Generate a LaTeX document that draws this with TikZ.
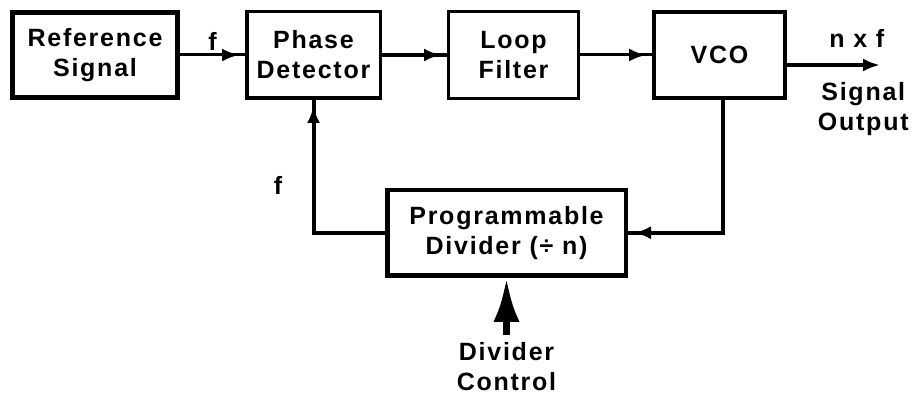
\documentclass[tikz,border=0pt]{standalone}
\usepackage{fontspec}
\setmainfont{Liberation Sans}[LetterSpace=7.0]
\usetikzlibrary{arrows.meta,positioning,calc,decorations.markings}

\begin{document}
\begin{tikzpicture}[x=1pt, y=1pt, node distance=65pt, >=Latex,
  every node/.style={font=\fontsize{25pt}{30pt}\selectfont\bfseries},
  blk/.style={draw, line width=3.5pt, minimum height=86.5pt, align=center},
  tip/.style={postaction={decorate}, decoration={markings, mark=at position -6pt with {\arrow{Latex[length=17pt,width=13pt]}}}}]
\useasboundingbox (0,0) rectangle (913,-398);
\node[blk, line width=5pt, minimum width=165pt, minimum height=85pt] (ref) at (95,-55) {Reference\\Signal};
\node[blk, minimum width=133.5pt, right=65pt of ref] (pd) {Phase\\Detector};
\node[blk, line width=3pt, minimum width=130pt, right=65pt of pd] (lf) {Loop\\Filter};
\node[blk, line width=4pt, minimum width=131pt, right=72pt of lf] (vco) {VCO};
\node[blk, line width=4.5pt, minimum width=238.5pt, minimum height=85.5pt, below=88pt of lf, xshift=-7pt] (div) {Programmable\\Divider (÷ n)};

\draw[line width=3pt, tip] (ref) -- node[above]{f} (pd);
\draw[line width=4pt, tip] (pd) -- (lf);
\draw[line width=3pt, tip] (lf) -- (vco);

\coordinate (out) at ([shift={(93pt,-10pt)}]vco.east);
\draw[line width=4pt, -{Latex[length=17pt,width=13pt]}] (vco.east |- out) -- node[pos=0.75, above=12pt]{n x f} node[pos=0.82, below=12pt, align=center]{Signal\\Output} (out);

% feedback loop
\draw[line width=4pt, tip] ([xshift=3pt]vco.south) |- (div.east);
\draw[line width=4pt, tip] (div.west) -| node[pos=0.68, left=26pt]{f} (pd.south);

\coordinate[below=57pt of div.south] (ctl);
\draw[line width=7pt, -{Latex[length=44pt,width=26pt]}] (ctl) -- (div.south);
\node[below=4pt of ctl, align=center] (ctltxt) {Divider\\Control};
\end{tikzpicture}
\end{document}
